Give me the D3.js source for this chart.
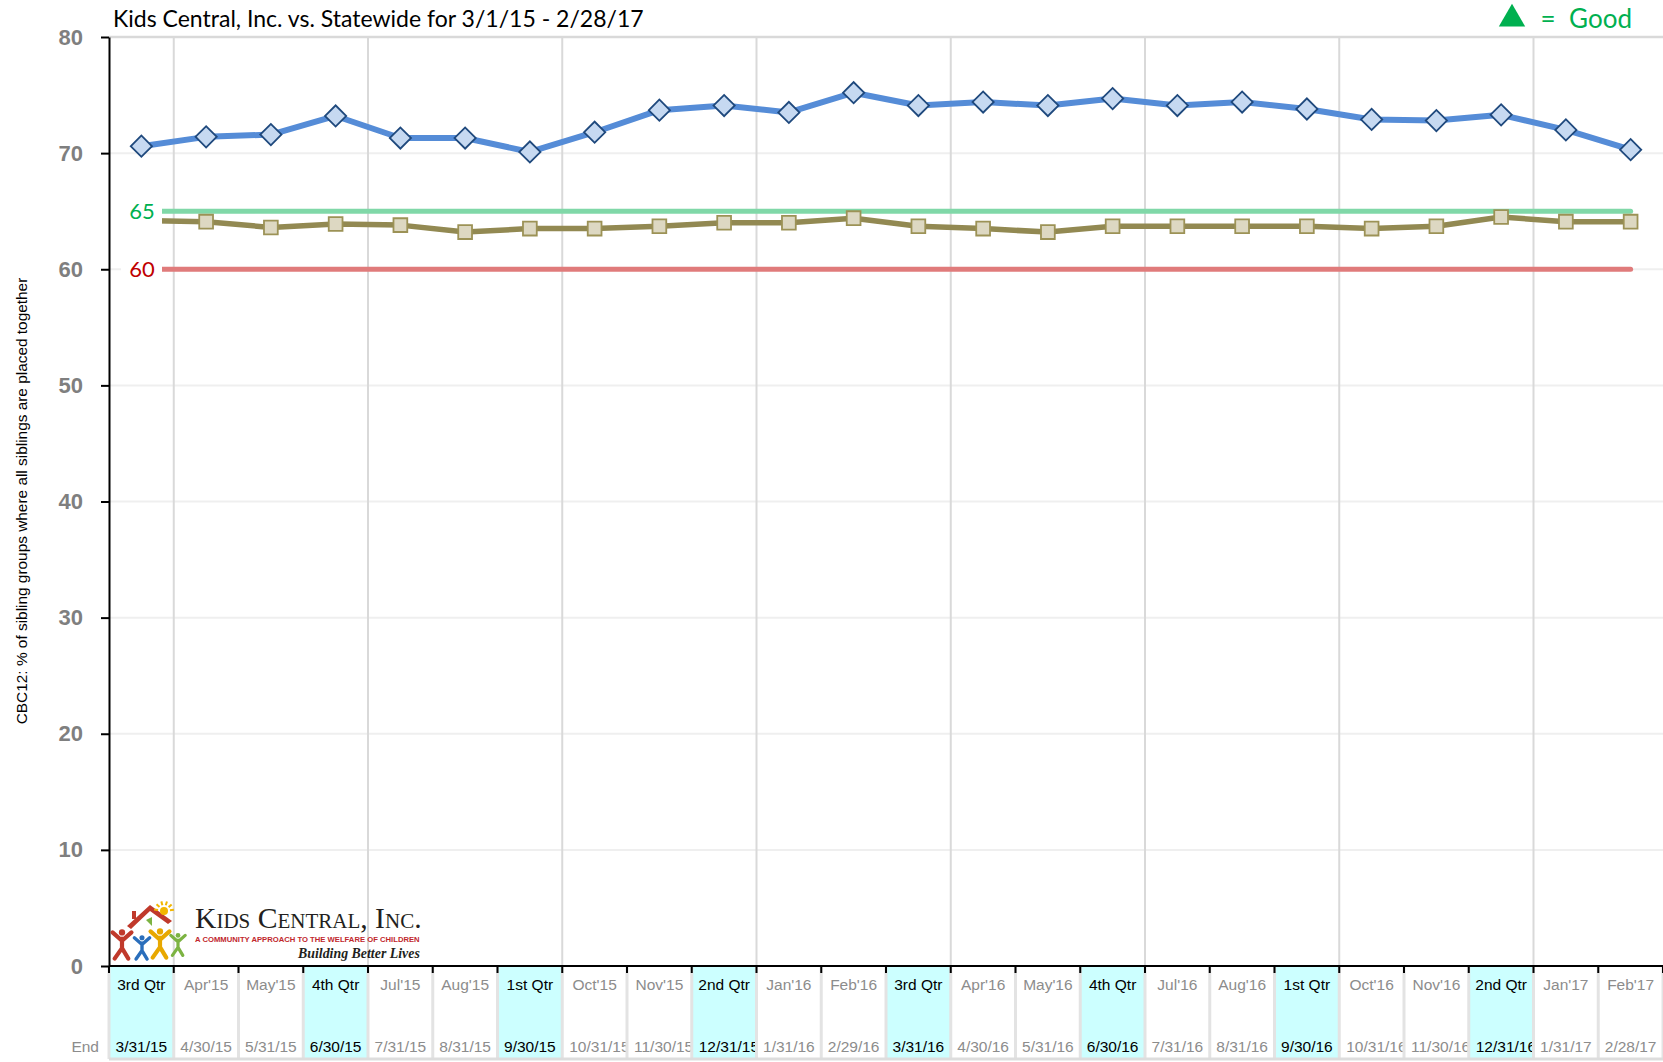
<!DOCTYPE html>
<html><head><meta charset="utf-8">
<script src="https://cdn.jsdelivr.net/npm/d3@7"></script>
<style>body{margin:0;background:#fff;} svg{display:block;}</style>
</head><body>
<svg id="chart" width="1663" height="1062"></svg>
<script>
// ---------- data ----------
const topLabels = ["3rd Qtr","Apr'15","May'15","4th Qtr","Jul'15","Aug'15","1st Qtr","Oct'15","Nov'15","2nd Qtr","Jan'16","Feb'16","3rd Qtr","Apr'16","May'16","4th Qtr","Jul'16","Aug'16","1st Qtr","Oct'16","Nov'16","2nd Qtr","Jan'17","Feb'17"];
const endDates = ["3/31/15","4/30/15","5/31/15","6/30/15","7/31/15","8/31/15","9/30/15","10/31/15","11/30/15","12/31/15","1/31/16","2/29/16","3/31/16","4/30/16","5/31/16","6/30/16","7/31/16","8/31/16","9/30/16","10/31/16","11/30/16","12/31/16","1/31/17","2/28/17"];
const kidsCentral = [70.6,71.4,71.6,73.2,71.3,71.3,70.1,71.8,73.7,74.1,73.5,75.2,74.1,74.4,74.1,74.7,74.1,74.4,73.8,72.9,72.8,73.3,72.0,70.3];
const statewide = [64.2,64.1,63.6,63.9,63.8,63.2,63.5,63.5,63.7,64.0,64.0,64.4,63.7,63.5,63.2,63.7,63.7,63.7,63.7,63.5,63.7,64.5,64.1,64.1];
const yTicks = [0,10,20,30,40,50,60,70,80];
const targetGood = 65;
const targetMin = 60;
const titleText = "Kids Central, Inc. vs. Statewide for 3/1/15 - 2/28/17";
const yTitle = "CBC12: % of sibling groups where all siblings are placed together";

// ---------- layout ----------
const pLeft = 109, pRight = 1663, pTop = 37, pBottom = 966;
const tableBottom = 1059;
const svg = d3.select("#chart");

const x = d3.scaleBand().domain(endDates).range([pLeft, pRight]).padding(0);
const y = d3.scaleLinear().domain([0, 80]).range([pBottom, pTop]);
const bw = x.bandwidth();
const cx = d => x(d) + bw / 2;
const isQtr = i => topLabels[i].includes("Qtr");

function fit(sel, target) {
  const w = sel.node().getComputedTextLength();
  const fs = parseFloat(sel.attr("font-size"));
  if (w > 0) sel.attr("font-size", fs * target / w);
}

// ---------- x table (background fills) ----------
const table = svg.append("g");
table.selectAll("rect.q").data(endDates.filter((d, i) => isQtr(i)))
  .join("rect").attr("x", d => x(d)).attr("y", pBottom).attr("width", bw)
  .attr("height", tableBottom - pBottom).attr("fill", "#ccffff");

// ---------- gridlines ----------
const grid = svg.append("g");
grid.selectAll("line.h").data(yTicks.filter(t => t > 0 && t < 80)).join("line")
  .attr("x1", pLeft).attr("x2", pRight).attr("y1", d => y(d)).attr("y2", d => y(d))
  .attr("stroke", "#efefef").attr("stroke-width", 2);
grid.append("line").attr("x1", pLeft).attr("x2", pRight).attr("y1", y(80)).attr("y2", y(80))
  .attr("stroke", "#d9d9d9").attr("stroke-width", 2.5);
grid.selectAll("line.v").data(endDates.filter((d, i) => isQtr(i))).join("line")
  .attr("x1", d => x(d) + bw).attr("x2", d => x(d) + bw)
  .attr("y1", pTop).attr("y2", pBottom)
  .attr("stroke", "#d9d9d9").attr("stroke-width", 2);

// table separators
const bounds = d3.range(0, endDates.length + 1).map(i => pLeft + i * bw);
table.selectAll("line.sep").data(bounds).join("line")
  .attr("x1", d => d).attr("x2", d => d).attr("y1", pBottom).attr("y2", tableBottom)
  .attr("stroke", "#e3e3e3").attr("stroke-width", 3);
table.append("line").attr("x1", pLeft).attr("x2", pRight).attr("y1", tableBottom).attr("y2", tableBottom)
  .attr("stroke", "#dddddd").attr("stroke-width", 3);
table.selectAll("line.tk").data(bounds).join("line")
  .attr("x1", d => d).attr("x2", d => d).attr("y1", pBottom).attr("y2", pBottom + 7)
  .attr("stroke", "#000").attr("stroke-width", 2);

// table text
const defs = svg.append("defs");
endDates.forEach((d, i) => {
  defs.append("clipPath").attr("id", "c" + i).append("rect")
    .attr("x", x(d) + 1.5).attr("y", pBottom).attr("width", bw - 3).attr("height", tableBottom - pBottom);
});
function cellText(rowY, labels, colorFn) {
  labels.forEach((lab, i) => {
    const d = endDates[i];
    const t = table.append("text").attr("clip-path", `url(#c${i})`)
      .attr("font-family", "Liberation Sans, Arial, sans-serif").attr("font-size", 15.5)
      .attr("fill", colorFn(i)).attr("y", rowY).text(lab);
    const w = t.node().getComputedTextLength();
    if (w > bw - 10) t.attr("x", x(d) + 7).attr("text-anchor", "start");
    else t.attr("x", cx(d)).attr("text-anchor", "middle");
  });
}
cellText(990, topLabels, i => isQtr(i) ? "#000" : "#8c8c8c");
cellText(1052, endDates, i => isQtr(i) ? "#000" : "#8c8c8c");
svg.append("text").attr("x", 99).attr("y", 1052).attr("text-anchor", "end")
  .attr("font-family", "Liberation Sans, Arial, sans-serif").attr("font-size", 15.5)
  .attr("fill", "#8c8c8c").text("End");

// ---------- y axis ----------
const yAxis = svg.append("g").attr("transform", `translate(${pLeft},0)`)
  .call(d3.axisLeft(y).tickValues(yTicks).tickSize(8).tickPadding(18).tickSizeOuter(0));
yAxis.select(".domain").attr("stroke", "#000").attr("stroke-width", 2);
yAxis.selectAll(".tick line").attr("stroke", "#000").attr("stroke-width", 2);
yAxis.selectAll(".tick text").attr("font-family", "Liberation Sans, Arial, sans-serif")
  .attr("font-size", 22).attr("font-weight", "bold").attr("fill", "#7f7f7f");
svg.append("line").attr("x1", pLeft).attr("x2", pRight).attr("y1", pBottom).attr("y2", pBottom)
  .attr("stroke", "#000").attr("stroke-width", 2);

// y title
const yt = svg.append("text").attr("transform", `translate(27,501) rotate(-90)`)
  .attr("text-anchor", "middle").attr("font-family", "Liberation Sans, Arial, sans-serif")
  .attr("font-size", 13).attr("fill", "#000").text(yTitle);
fit(yt, 447);

// ---------- logo ----------
const logo = svg.append("g");
logo.append("path").attr("d", "M127,926 L150,905 L172,921 L168,924 L150,911 L131,929 Z").attr("fill", "#c0392b");
logo.append("rect").attr("x", 132).attr("y", 911).attr("width", 4).attr("height", 8).attr("fill", "#c0392b");
logo.append("path").attr("d", "M146,920 L152,917 L152,926 Z").attr("fill", "#7cb342");
logo.append("circle").attr("cx", 164).attr("cy", 911).attr("r", 4).attr("fill", "#f2b600");
d3.range(6).forEach(k => {
  const a = -Math.PI * 0.95 + k * Math.PI / 5.5;
  logo.append("line").attr("x1", 164 + 6 * Math.cos(a)).attr("y1", 911 + 6 * Math.sin(a))
    .attr("x2", 164 + 10 * Math.cos(a)).attr("y2", 911 + 10 * Math.sin(a))
    .attr("stroke", "#f2b600").attr("stroke-width", 2);
});
function person(px, py, s, col) {
  const g = logo.append("g").attr("transform", `translate(${px},${py}) scale(${s})`);
  g.append("circle").attr("cx", 0).attr("cy", -12).attr("r", 3).attr("fill", col);
  g.append("path").attr("d", "M-9,-12 L0,-4 L9,-12 M0,-6 L0,4 M0,3 L-7,13 M0,3 L6,13")
    .attr("stroke", col).attr("stroke-width", 4).attr("fill", "none").attr("stroke-linecap", "round");
}
person(122, 945, 1.05, "#c0392b");
person(142, 948, 0.85, "#2a6ebb");
person(160, 944, 1.05, "#e8a800");
person(178, 945, 0.8, "#7cb342");
const lt = logo.append("text").attr("x", 195).attr("y", 928).attr("font-family", "Liberation Serif, serif")
  .attr("font-size", 30).style("font-variant", "small-caps").attr("fill", "#231f20").text("Kids Central, Inc.");
fit(lt, 225);
const lr = logo.append("text").attr("x", 195).attr("y", 942).attr("font-family", "Liberation Sans, Arial, sans-serif")
  .attr("font-size", 7).attr("font-weight", "bold").attr("fill", "#c1272d").text("A COMMUNITY APPROACH TO THE WELFARE OF CHILDREN");
fit(lr, 225);
const lb = logo.append("text").attr("x", 298).attr("y", 958).attr("font-family", "Liberation Serif, serif")
  .attr("font-size", 13).attr("font-style", "italic").attr("font-weight", "bold").attr("fill", "#231f20").text("Building Better Lives");
fit(lb, 122);

// ---------- target lines ----------
const x0 = cx(endDates[0]), x1 = cx(endDates[endDates.length - 1]);
svg.append("line").attr("x1", x0).attr("x2", x1).attr("y1", y(targetGood)).attr("y2", y(targetGood))
  .attr("stroke", "#80d8a8").attr("stroke-width", 5).attr("stroke-linecap", "round");
svg.append("line").attr("x1", x0).attr("x2", x1).attr("y1", y(targetMin)).attr("y2", y(targetMin))
  .attr("stroke", "#e07b7b").attr("stroke-width", 5).attr("stroke-linecap", "round");

// ---------- series ----------
const line = d3.line().x((d, i) => cx(endDates[i])).y(d => y(d));
svg.append("path").datum(statewide).attr("d", line).attr("fill", "none")
  .attr("stroke", "#928952").attr("stroke-width", 5.5).attr("stroke-linejoin", "round");
svg.selectAll("path.sq").data(statewide).join("path").attr("class", "sq")
  .attr("d", d3.symbol(d3.symbolSquare, 190))
  .attr("transform", (d, i) => `translate(${cx(endDates[i])},${y(d)})`)
  .attr("fill", "#ddd8c2").attr("stroke", "#9c9256").attr("stroke-width", 1.8);

svg.append("path").datum(kidsCentral).attr("d", line).attr("fill", "none")
  .attr("stroke", "#558cd7").attr("stroke-width", 6).attr("stroke-linejoin", "round");
svg.selectAll("path.dm").data(kidsCentral).join("path").attr("class", "dm")
  .attr("d", d3.symbol(d3.symbolSquare, 225))
  .attr("transform", (d, i) => `translate(${cx(endDates[i])},${y(d)}) rotate(45)`)
  .attr("fill", "#c6d9f1").attr("stroke", "#1f497d").attr("stroke-width", 1.8);

// target labels with white boxes
svg.append("rect").attr("x", 121).attr("y", y(targetGood) - 16).attr("width", 41).attr("height", 36).attr("fill", "#fff");
svg.append("rect").attr("x", 121).attr("y", y(targetMin) - 14).attr("width", 41).attr("height", 28).attr("fill", "#fff");
svg.append("text").attr("x", 142).attr("y", y(targetGood) + 8).attr("text-anchor", "middle")
  .attr("font-family", "Lato, sans-serif").attr("font-size", 22).attr("fill", "#00b050").text(targetGood);
svg.append("text").attr("x", 142).attr("y", y(targetMin) + 8).attr("text-anchor", "middle")
  .attr("font-family", "Lato, sans-serif").attr("font-size", 22).attr("fill", "#c00000").text(targetMin);

// ---------- title ----------
const tt = svg.append("text").attr("x", 113).attr("y", 27).attr("font-family", "Lato, sans-serif")
  .attr("font-size", 22).attr("fill", "#000").text(titleText);
fit(tt, 531);

// legend "▲ = Good"
const lg = svg.append("g");
lg.append("path").attr("d", d3.symbol(d3.symbolTriangle, 300)).attr("transform", "translate(1512,19)").attr("fill", "#00b050");
lg.append("text").attr("x", 1548).attr("y", 28).attr("text-anchor", "middle").attr("font-family", "Lato, sans-serif")
  .attr("font-size", 26).attr("fill", "#00b050").text("=");
lg.append("text").attr("x", 1632).attr("y", 28).attr("text-anchor", "end").attr("font-family", "Lato, sans-serif")
  .attr("font-size", 26).attr("fill", "#00b050").text("Good");
</script>
</body></html>
